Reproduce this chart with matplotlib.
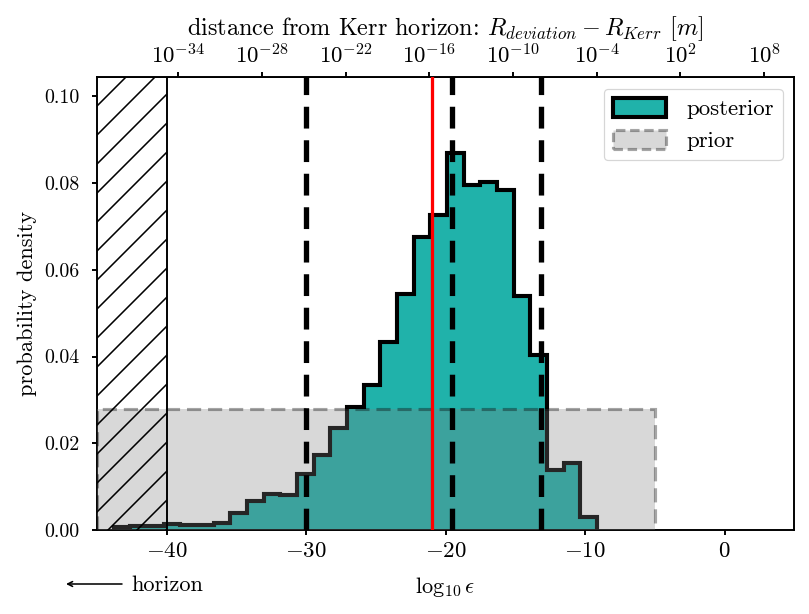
import numpy as np
import matplotlib.pyplot as plt
from matplotlib.patches import Patch

plt.rcParams['font.family'] = 'serif'
plt.rcParams['font.serif'] = ['cmr10', 'DejaVu Serif']
plt.rcParams['mathtext.fontset'] = 'cm'
plt.rcParams['axes.formatter.use_mathtext'] = True
plt.rcParams['axes.unicode_minus'] = False
plt.rcParams['hatch.linewidth'] = 1.3

# posterior histogram (log10 epsilon)
post_edges = np.linspace(-43.8, -9.15, 30)
post_density = [0.0007, 0.0010, 0.0010, 0.0014, 0.0011, 0.0013, 0.0016, 0.0039,
                0.0068, 0.0083, 0.0081, 0.0129, 0.0173, 0.0235, 0.0284, 0.0334,
                0.0434, 0.0544, 0.0676, 0.0726, 0.0869, 0.0795, 0.0802, 0.0783,
                0.0539, 0.0403, 0.0139, 0.0155, 0.0031]

# flat prior
prior_edges = [-45, -5]
prior_density = [0.0278]

horizon = -40
interval_lines = [-30.0, -19.56, -13.15]
median_line = -21.0
log_r_kerr = 5.17

top_ticks = [-34, -28, -22, -16, -10, -4, 2, 8]
top_labels = ['$10^{%d}$' % t for t in top_ticks]

fig = plt.figure(figsize=(809 / 87, 614 / 87), dpi=87)
ax = fig.add_axes([0.1196, 0.1365, 0.8624, 0.7375])

ax.stairs(post_density, post_edges, fill=True, color='lightseagreen', zorder=1)
ax.stairs(post_density, post_edges, color='black', linewidth=3.4, zorder=2)
ax.stairs(prior_density, prior_edges, fill=True, color='gray', alpha=0.3, zorder=3)
ax.stairs(prior_density, prior_edges, color='black', alpha=0.35, linewidth=2.6,
          linestyle=(0, (4.5, 2.2)), zorder=3)

ax.axvspan(-45, horizon, facecolor='none', edgecolor='black', hatch='/', linewidth=0, zorder=4)
ax.axvline(horizon, color='black', linewidth=1.6, zorder=4)

for v in interval_lines:
    ax.axvline(v, color='black', linewidth=4.4, linestyle=(0, (4.1, 2.2)), zorder=5)
ax.axvline(median_line, color='red', linewidth=2.7, zorder=5)

ax.set_xlim(-45, 5)
ax.set_ylim(0, 0.1043)
ax.set_xticks([-40, -30, -20, -10, 0])
ax.set_yticks([0, 0.02, 0.04, 0.06, 0.08, 0.10])
ax.set_yticklabels(['0.00', '0.02', '0.04', '0.06', '0.08', '0.10'])
ax.tick_params(axis='x', labelsize=19, width=1.6, length=4, pad=5)
ax.tick_params(axis='y', labelsize=16.5, width=1.6, length=4, pad=10)
for s in ax.spines.values():
    s.set_linewidth(1.6)

ax.set_xlabel(r'$\log_{10}\epsilon$', fontsize=18.5, labelpad=12)
ax.set_ylabel('probability density', fontsize=18.5, labelpad=6)

sec = ax.secondary_xaxis('top', functions=(lambda x: x + log_r_kerr, lambda x: x - log_r_kerr))
sec.set_xticks(top_ticks)
sec.set_xticklabels(top_labels)
sec.tick_params(labelsize=19, width=1.6, length=4, pad=4)
sec.set_xlabel(r'distance from Kerr horizon: $R_{deviation} - R_{Kerr}$ $[m]$', fontsize=20, labelpad=7)

handles = [Patch(facecolor='lightseagreen', edgecolor='black', linewidth=3.4),
           Patch(facecolor=(0.5, 0.5, 0.5, 0.3), edgecolor=(0, 0, 0, 0.35), linewidth=2.6,
                 linestyle=(0, (3, 1.5)))]
ax.legend(handles, ['posterior', 'prior'], loc='upper right', fontsize=19,
          handlelength=2.3, handleheight=0.9, borderaxespad=0.5, labelspacing=0.45,
          handletextpad=0.9, borderpad=0.4)

fig.text(131 / 809, 1 - 585 / 614, 'horizon', fontsize=18.5, ha='left', va='center')
fig.add_artist(plt.Annotation('', xy=(66 / 809, 1 - 584 / 614), xytext=(122 / 809, 1 - 584 / 614),
                              xycoords='figure fraction', textcoords='figure fraction',
                              arrowprops=dict(arrowstyle='->', lw=1.3, color='black',
                                              shrinkA=0, shrinkB=0)))

fig.savefig('out.png', dpi=87)
